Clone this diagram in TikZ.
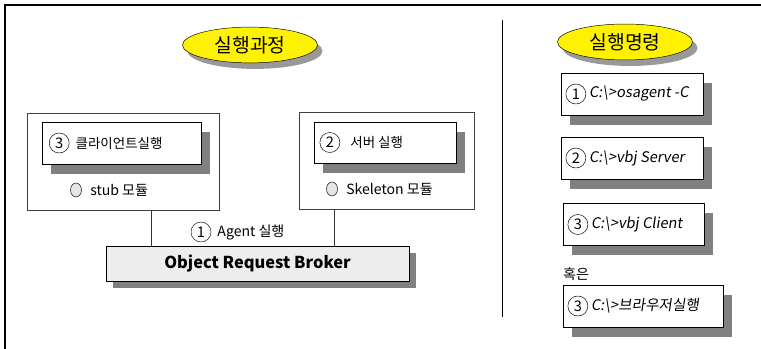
\documentclass[tikz,border=0pt]{standalone}
\usepackage{fontspec}
\setmainfont{Noto Sans CJK KR}
\newfontfamily\cmdfont{Noto Sans CJK KR}[FakeSlant=0.15]
\usetikzlibrary{shapes,positioning,shadows}

\begin{document}
\begin{tikzpicture}[
    x=0.03cm, y=-0.03cm,
    pane/.style={rectangle, draw=black!75, minimum height=2.91cm},
    box/.style={rectangle, draw, semithick, fill=white, minimum height=1.26cm,
      drop shadow={shadow xshift=0.27cm, shadow yshift=-0.3cm, fill=black!50, opacity=1}},
    bubble/.style={ellipse, draw, fill=yellow, minimum width=4.05cm, minimum height=1cm,
      font=\fontsize{16.5}{16.5}\selectfont,
      drop shadow={shadow xshift=0.15cm, shadow yshift=-0.18cm, fill=black!40, opacity=1}},
    orb/.style={rectangle, draw, fill=black!7, minimum width=9.09cm, minimum height=1.05cm,
      font=\bfseries\fontsize{14}{16}\selectfont,
      drop shadow={shadow xshift=0.21cm, shadow yshift=-0.21cm, fill=black!50, opacity=1}},
    num/.style={circle, draw, inner sep=0pt, minimum size=0.6cm, font=\fontsize{12.5}{12.5}\selectfont},
    boxtext/.style={inner sep=0pt, font=\fontsize{11.5}{14}\selectfont},
    smalltext/.style={inner sep=0pt, font=\fontsize{12}{14}\selectfont},
    cmd/.style={inner sep=0pt, font=\cmdfont\fontsize{12.5}{14}\selectfont},
    port/.style={ellipse, draw, fill=black!10, minimum width=0.33cm, minimum height=0.42cm, inner sep=0pt},
    link/.style={draw=black!80}
]
    \useasboundingbox (0,0) rectangle (761,349);

    % frame and divider
    \draw[line width=1.4pt] (5,349) -- (5,5) -- (761,5);
    \draw (502,20) -- (502,317);

    % left part
    \node[bubble] (proc) at (250,45) {실행과정};

    \node[pane, minimum width=5.76cm] (cpane) at (123,161.5) {};
    \node[box, minimum width=4.77cm] (client) at (121.5,143) {};
    \node[num, right=0.22cm of client.west] (n3) {3};
    \node[boxtext, right=0.18cm of n3] {클라이언트실행};
    \node[port] (stub) at (76,190) {};
    \node[smalltext, right=0.25cm of stub] {stub 모듈};

    \node[pane, minimum width=5.25cm] (spane) at (386.5,160.5) {};
    \node[box, minimum width=4.26cm, minimum height=1.23cm] (server) at (385,142.5) {};
    \node[num, right=0.18cm of server.west] (n2) {2};
    \node[boxtext, right=0.3cm of n2] {서버 실행};
    \node[port] (skel) at (332,189) {};
    \node[smalltext, right=0.25cm of skel] {Skeleton 모듈};

    \node[orb] (orb) at (257.5,263.5) {Object Request Broker};

    \draw[link] ([xshift=0.84cm]cpane.south) -- ([xshift=0.84cm]cpane.south |- orb.north);
    \draw[link] ([xshift=-1.575cm]spane.south) -- ([xshift=-1.575cm]spane.south |- orb.north);

    \node[num] (n1) at (201,232) {1};
    \node[smalltext, right=0.18cm of n1] {Agent 실행};

    % right part
    \node[bubble] (cmds) at (625,42) {실행명령};

    \node[box, minimum width=4.26cm] (cmd1) at (632,94) {};
    \node[num, right=0.15cm of cmd1.west] (c1) {1};
    \node[cmd, right=0.08cm of c1] {C:\textbackslash>osagent -C};

    \node[box, minimum width=4.26cm] (cmd2) at (632,158) {};
    \node[num, right=0.15cm of cmd2.west] (c2) {2};
    \node[cmd, right=0.08cm of c2] {C:\textbackslash>vbj Server};

    \node[box, minimum width=4.23cm] (cmd3) at (633.5,224.5) {};
    \node[num, right=0.15cm of cmd3.west] (c3) {3};
    \node[cmd, right=0.08cm of c3] {C:\textbackslash>vbj Client};

    \node[smalltext, anchor=west] (alt) at (563,274) {혹은};

    \node[box, minimum width=4.8cm] (cmd4) at (643,306) {};
    \node[num, right=0.15cm of cmd4.west] (c4) {3};
    \node[cmd, right=0.08cm of c4] {C:\textbackslash>브라우저실행};
\end{tikzpicture}
\end{document}
